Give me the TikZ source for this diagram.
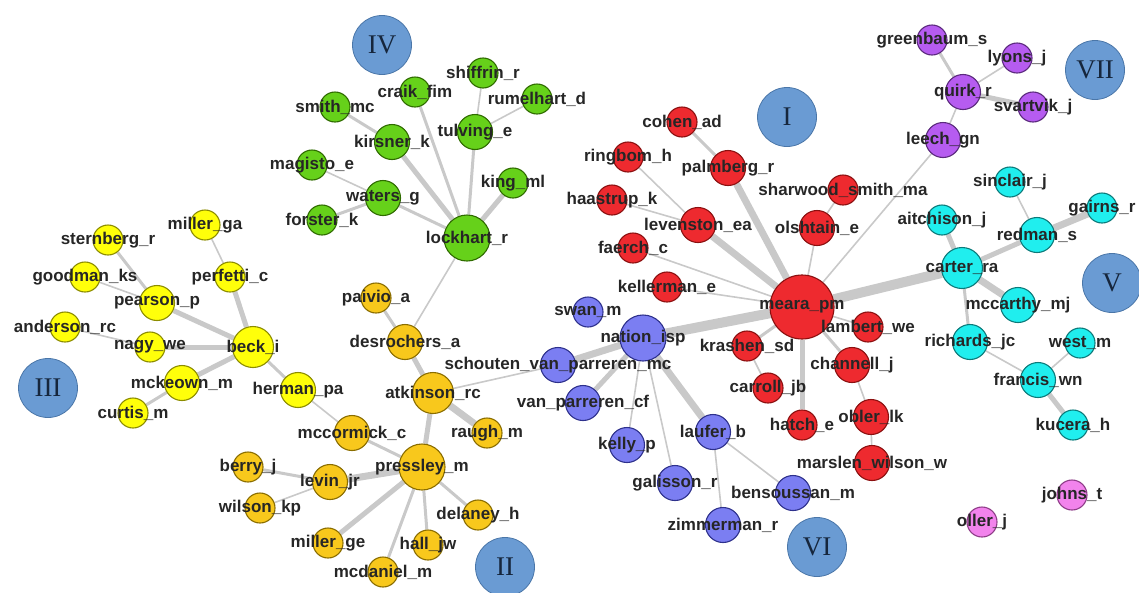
\documentclass[tikz,border=0pt]{standalone}
\usepackage{fontspec}
\setmainfont{Liberation Sans}
\newfontfamily\romanfont{Liberation Serif}
\usepackage{xcolor}
\usepackage{tikz}
\usetikzlibrary{backgrounds}
\definecolor{tiegray}{HTML}{C9C9C9}
\definecolor{clusterfill}{HTML}{6A9BD3}
\definecolor{clusterline}{HTML}{4A76A8}
\definecolor{clustertext}{HTML}{16263C}
\tikzset{
    pnode/.style = {circle, draw, line width=1.1pt, inner sep=0pt, minimum size=30pt, text=black!85,
        font=\bfseries\fontsize{17}{17}\selectfont,
        execute at begin node={\hbox to 0pt\bgroup\hss}, execute at end node={\hss\egroup}},
    yellow_node/.style = {pnode, fill={rgb,255:red,255;green,255;blue,10}, draw={rgb,255:red,140;green,140;blue,0}},
    orange_node/.style = {pnode, fill={rgb,255:red,248;green,200;blue,28}, draw={rgb,255:red,138;green,109;blue,0}},
    green_node/.style = {pnode, fill={rgb,255:red,102;green,209;blue,26}, draw={rgb,255:red,47;green,107;blue,0}},
    red_node/.style = {pnode, fill={rgb,255:red,238;green,42;blue,47}, draw={rgb,255:red,139;green,16;blue,16}},
    blue_node/.style = {pnode, fill={rgb,255:red,123;green,126;blue,242}, draw={rgb,255:red,46;green,49;blue,140}},
    cyan_node/.style = {pnode, fill={rgb,255:red,32;green,238;blue,238}, draw={rgb,255:red,12;green,122;blue,122}},
    purple_node/.style = {pnode, fill={rgb,255:red,182;green,92;blue,240}, draw={rgb,255:red,91;green,42;blue,125}},
    pink_node/.style = {pnode, fill={rgb,255:red,242;green,131;blue,236}, draw={rgb,255:red,142;green,61;blue,136}},
    size_m/.style = {minimum size=35pt},
    size_l/.style = {minimum size=41pt},
    size_xl/.style = {minimum size=46pt},
    size_xxl/.style = {minimum size=64pt},
    cluster_node/.style = {circle, draw=clusterline, fill=clusterfill, line width=0.8pt, minimum size=59pt, inner sep=0pt,
        text=clustertext, font=\romanfont\fontsize{27}{27}\selectfont},
    tie/.style = {draw=tiegray},
    thin_tie/.style = {tie, line width=1.6pt},
    mid_tie/.style = {tie, line width=3pt},
    thick_tie/.style = {tie, line width=5pt},
    fat_tie/.style = {tie, line width=7pt},
    heavy_tie/.style = {tie, line width=10pt}
}

\begin{document}
\begin{tikzpicture}[x=1pt, y=-1pt]
    \useasboundingbox (0,0) rectangle (1139,592);

    % clusters
    \node[cluster_node] (clu_I) at (787,117) {I};
    \node[cluster_node] (clu_II) at (505,567) {II};
    \node[cluster_node] (clu_III) at (48,388) {III};
    \node[cluster_node] (clu_IV) at (382,45) {IV};
    \node[cluster_node] (clu_V) at (1112,283) {V};
    \node[cluster_node] (clu_VI) at (817,547) {VI};
    \node[cluster_node] (clu_VII) at (1095,70) {VII};

    % III
    \node[yellow_node, size_l] (beck_i) at (253,347) {beck\_i};
    \node[yellow_node] (sternberg_r) at (108,240) {sternberg\_r};
    \node[yellow_node] (miller_ga) at (205,225) {miller\_ga};
    \node[yellow_node] (goodman_ks) at (85,277) {goodman\_ks};
    \node[yellow_node] (perfetti_c) at (230,277) {perfetti\_c};
    \node[yellow_node, size_m] (pearson_p) at (157,303) {pearson\_p};
    \node[yellow_node] (anderson_rc) at (65,327) {anderson\_rc};
    \node[yellow_node] (nagy_we) at (150,347) {nagy\_we};
    \node[yellow_node, size_m] (mckeown_m) at (182,383) {mckeown\_m};
    \node[yellow_node] (curtis_m) at (133,413) {curtis\_m};
    \node[yellow_node, size_m] (herman_pa) at (298,390) {herman\_pa};

    % IV
    \node[green_node, size_xl] (lockhart_r) at (467,238) {lockhart\_r};
    \node[green_node] (shiffrin_r) at (483,73) {shiffrin\_r};
    \node[green_node] (craik_fim) at (415,92) {craik\_fim};
    \node[green_node] (rumelhart_d) at (537,99) {rumelhart\_d};
    \node[green_node] (smith_mc) at (335,107) {smith\_mc};
    \node[green_node, size_m] (tulving_e) at (475,132) {tulving\_e};
    \node[green_node, size_m] (kirsner_k) at (392,142) {kirsner\_k};
    \node[green_node] (magisto_e) at (312,165) {magisto\_e};
    \node[green_node] (king_ml) at (513,183) {king\_ml};
    \node[green_node, size_m] (waters_g) at (383,198) {waters\_g};
    \node[green_node] (forster_k) at (322,220) {forster\_k};

    % II
    \node[orange_node, size_xl] (pressley_m) at (422,467) {pressley\_m};
    \node[orange_node, size_l] (atkinson_rc) at (433,393) {atkinson\_rc};
    \node[orange_node] (paivio_a) at (376,298) {paivio\_a};
    \node[orange_node, size_m] (desrochers_a) at (405,342) {desrochers\_a};
    \node[orange_node, size_m] (mccormick_c) at (352,433) {mccormick\_c};
    \node[orange_node] (raugh_m) at (487,433) {raugh\_m};
    \node[orange_node] (berry_j) at (248,467) {berry\_j};
    \node[orange_node, size_m] (levin_jr) at (330,482) {levin\_jr};
    \node[orange_node] (wilson_kp) at (260,508) {wilson\_kp};
    \node[orange_node] (delaney_h) at (478,515) {delaney\_h};
    \node[orange_node] (miller_ge) at (328,543) {miller\_ge};
    \node[orange_node] (hall_jw) at (428,545) {hall\_jw};
    \node[orange_node] (mcdaniel_m) at (383,572) {mcdaniel\_m};

    % I
    \node[red_node, size_xxl] (meara_pm) at (802,307) {meara\_pm};
    \node[red_node] (cohen_ad) at (682,122) {cohen\_ad};
    \node[red_node] (ringbom_h) at (628,157) {ringbom\_h};
    \node[red_node, size_m] (palmberg_r) at (728,168) {palmberg\_r};
    \node[red_node] (sharwood_smith_ma) at (843,190) {sharwood\_smith\_ma};
    \node[red_node] (haastrup_k) at (612,200) {haastrup\_k};
    \node[red_node, size_m] (levenston_ea) at (698,225) {levenston\_ea};
    \node[red_node, size_m] (olshtain_e) at (817,228) {olshtain\_e};
    \node[red_node] (faerch_c) at (633,248) {faerch\_c};
    \node[red_node] (kellerman_e) at (667,287) {kellerman\_e};
    \node[red_node] (lambert_we) at (868,327) {lambert\_we};
    \node[red_node] (krashen_sd) at (747,346) {krashen\_sd};
    \node[red_node, size_m] (channell_j) at (852,365) {channell\_j};
    \node[red_node] (carroll_jb) at (768,388) {carroll\_jb};
    \node[red_node] (hatch_e) at (802,425) {hatch\_e};
    \node[red_node, size_m] (obler_lk) at (871,417) {obler\_lk};
    \node[red_node, size_m] (marslen_wilson_w) at (872,463) {marslen\_wilson\_w};

    % VI
    \node[blue_node, size_xl] (nation_isp) at (643,338) {nation\_isp};
    \node[blue_node] (swan_m) at (588,312) {swan\_m};
    \node[blue_node, size_m] (schouten_van_parreren_mc) at (558,365) {schouten\_van\_parreren\_mc};
    \node[blue_node, size_m] (van_parreren_cf) at (583,403) {van\_parreren\_cf};
    \node[blue_node, size_m] (kelly_p) at (627,445) {kelly\_p};
    \node[blue_node, size_m] (laufer_b) at (713,432) {laufer\_b};
    \node[blue_node, size_m] (galisson_r) at (675,483) {galisson\_r};
    \node[blue_node, size_m] (bensoussan_m) at (793,493) {bensoussan\_m};
    \node[blue_node, size_m] (zimmerman_r) at (723,525) {zimmerman\_r};

    % VII
    \node[purple_node] (greenbaum_s) at (932,40) {greenbaum\_s};
    \node[purple_node] (lyons_j) at (1017,58) {lyons\_j};
    \node[purple_node, size_m] (quirk_r) at (963,92) {quirk\_r};
    \node[purple_node] (svartvik_j) at (1033,107) {svartvik\_j};
    \node[purple_node, size_m] (leech_gn) at (943,140) {leech\_gn};

    % V
    \node[cyan_node, size_l] (carter_ra) at (962,268) {carter\_ra};
    \node[cyan_node] (sinclair_j) at (1010,182) {sinclair\_j};
    \node[cyan_node] (gairns_r) at (1102,208) {gairns\_r};
    \node[cyan_node] (aitchison_j) at (942,220) {aitchison\_j};
    \node[cyan_node, size_m] (redman_s) at (1037,235) {redman\_s};
    \node[cyan_node, size_m] (mccarthy_mj) at (1018,305) {mccarthy\_mj};
    \node[cyan_node, size_m] (richards_jc) at (970,342) {richards\_jc};
    \node[cyan_node] (west_m) at (1080,343) {west\_m};
    \node[cyan_node, size_m] (francis_wn) at (1038,380) {francis\_wn};
    \node[cyan_node] (kucera_h) at (1073,425) {kucera\_h};

    % isolates
    \node[pink_node] (johns_t) at (1072,495) {johns\_t};
    \node[pink_node] (oller_j) at (982,522) {oller\_j};

    \begin{scope}[on background layer]
        % III
        \draw[mid_tie] (sternberg_r) -- (pearson_p);
        \draw[thin_tie] (goodman_ks) -- (pearson_p);
        \draw[thick_tie] (pearson_p) -- (beck_i);
        \draw[thin_tie] (miller_ga) -- (perfetti_c);
        \draw[thick_tie] (perfetti_c) -- (beck_i);
        \draw[thin_tie] (anderson_rc) -- (nagy_we);
        \draw[thick_tie] (nagy_we) -- (beck_i);
        \draw[thick_tie] (mckeown_m) -- (beck_i);
        \draw[mid_tie] (curtis_m) -- (mckeown_m);
        \draw[mid_tie] (beck_i) -- (herman_pa);
        \draw[thin_tie] (herman_pa) -- (mccormick_c);
        % IV
        \draw[thin_tie] (shiffrin_r) -- (tulving_e);
        \draw[thin_tie] (rumelhart_d) -- (tulving_e);
        \draw[mid_tie] (tulving_e) -- (lockhart_r);
        \draw[mid_tie] (craik_fim) -- (lockhart_r);
        \draw[mid_tie] (smith_mc) -- (kirsner_k);
        \draw[thick_tie] (kirsner_k) -- (lockhart_r);
        \draw[thin_tie] (magisto_e) -- (waters_g);
        \draw[mid_tie] (forster_k) -- (waters_g);
        \draw[mid_tie] (waters_g) -- (lockhart_r);
        \draw[thick_tie] (king_ml) -- (lockhart_r);
        \draw[thin_tie] (lockhart_r) -- (desrochers_a);
        % II
        \draw[mid_tie] (paivio_a) -- (desrochers_a);
        \draw[thick_tie] (desrochers_a) -- (atkinson_rc);
        \draw[thin_tie] (atkinson_rc) -- (schouten_van_parreren_mc);
        \draw[fat_tie] (atkinson_rc) -- (raugh_m);
        \draw[thick_tie] (atkinson_rc) -- (pressley_m);
        \draw[mid_tie] (mccormick_c) -- (pressley_m);
        \draw[mid_tie] (berry_j) -- (levin_jr);
        \draw[thin_tie] (wilson_kp) -- (levin_jr);
        \draw[fat_tie] (levin_jr) -- (pressley_m);
        \draw[mid_tie] (pressley_m) -- (delaney_h);
        \draw[mid_tie] (pressley_m) -- (hall_jw);
        \draw[thick_tie] (pressley_m) -- (miller_ge);
        \draw[mid_tie] (pressley_m) -- (mcdaniel_m);
        % I
        \draw[mid_tie] (cohen_ad) -- (palmberg_r);
        \draw[fat_tie] (palmberg_r) -- (meara_pm);
        \draw[thin_tie] (ringbom_h) -- (levenston_ea);
        \draw[thin_tie] (haastrup_k) -- (levenston_ea);
        \draw[fat_tie] (levenston_ea) -- (meara_pm);
        \draw[thin_tie] (sharwood_smith_ma) -- (olshtain_e);
        \draw[thin_tie] (olshtain_e) -- (meara_pm);
        \draw[thin_tie] (faerch_c) -- (meara_pm);
        \draw[thin_tie] (kellerman_e) -- (meara_pm);
        \draw[thin_tie] (leech_gn) -- (meara_pm);
        \draw[heavy_tie] (meara_pm) -- (carter_ra);
        \draw[heavy_tie] (meara_pm) -- (nation_isp);
        \draw[thin_tie] (meara_pm) -- (lambert_we);
        \draw[mid_tie] (meara_pm) -- (krashen_sd);
        \draw[thin_tie] (krashen_sd) -- (carroll_jb);
        \draw[thick_tie] (meara_pm) -- (hatch_e);
        \draw[mid_tie] (meara_pm) -- (channell_j);
        \draw[thin_tie] (channell_j) -- (obler_lk);
        \draw[thin_tie] (obler_lk) -- (marslen_wilson_w);
        % VI
        \draw[fat_tie] (schouten_van_parreren_mc) -- (nation_isp);
        \draw[thick_tie] (nation_isp) -- (van_parreren_cf);
        \draw[thin_tie] (nation_isp) -- (kelly_p);
        \draw[thin_tie] (nation_isp) -- (galisson_r);
        \draw[fat_tie] (nation_isp) -- (laufer_b);
        \draw[thin_tie] (laufer_b) -- (zimmerman_r);
        \draw[thin_tie] (laufer_b) -- (bensoussan_m);
        % VII
        \draw[mid_tie] (greenbaum_s) -- (quirk_r);
        \draw[thin_tie] (lyons_j) -- (quirk_r);
        \draw[thick_tie] (quirk_r) -- (svartvik_j);
        \draw[thin_tie] (quirk_r) -- (leech_gn);
        % V
        \draw[thin_tie] (sinclair_j) -- (redman_s);
        \draw[fat_tie] (redman_s) -- (gairns_r);
        \draw[thick_tie] (redman_s) -- (carter_ra);
        \draw[thick_tie] (aitchison_j) -- (carter_ra);
        \draw[fat_tie] (carter_ra) -- (mccarthy_mj);
        \draw[mid_tie] (carter_ra) -- (richards_jc);
        \draw[thin_tie] (richards_jc) -- (francis_wn);
        \draw[thin_tie] (west_m) -- (francis_wn);
        \draw[thick_tie] (francis_wn) -- (kucera_h);
    \end{scope}
\end{tikzpicture}
\end{document}
